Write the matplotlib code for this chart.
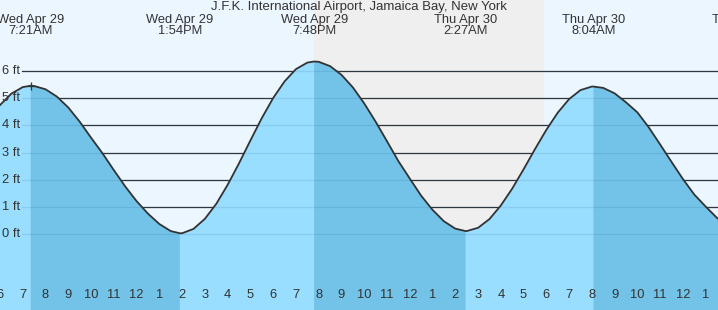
#!/usr/bin/env python

import matplotlib
matplotlib.use('Agg')
from matplotlib import pyplot as plt
from matplotlib.transforms import blended_transform_factory
import numpy as np

# tide height, hours counted from Wed Apr 29 00:00
hours = [6.0, 6.5, 7.0, 7.35, 7.5, 8.0, 8.5, 9.0, 9.5, 10.0, 10.5, 11.0, 11.5, 12.0,
         12.5, 13.0, 13.5, 13.9, 14.0, 14.5, 15.0, 15.5, 16.0, 16.5, 17.0, 17.5, 18.0,
         18.5, 19.0, 19.5, 19.8, 20.0, 20.5, 21.0, 21.5, 22.0, 22.5, 23.0, 23.5, 24.0,
         24.5, 25.0, 25.5, 26.0, 26.45, 26.5, 27.0, 27.5, 28.0, 28.5, 29.0, 29.5, 30.0,
         30.5, 31.0, 31.5, 32.0, 32.07, 32.5, 33.0, 33.5, 34.0, 34.5, 35.0, 35.5, 36.0,
         36.5, 37.0, 37.5, 38.0]
heights = [4.75, 5.17, 5.41, 5.46, 5.45, 5.33, 5.06, 4.66, 4.14, 3.55, 2.98, 2.36, 1.76, 1.22,
           0.76, 0.38, 0.12, 0.04, 0.04, 0.20, 0.57, 1.12, 1.82, 2.61, 3.45, 4.27, 5.01,
           5.62, 6.07, 6.31, 6.35, 6.34, 6.18, 5.86, 5.40, 4.81, 4.14, 3.42, 2.69, 2.05,
           1.42, 0.90, 0.48, 0.21, 0.12, 0.12, 0.24, 0.56, 1.06, 1.68, 2.39, 3.13, 3.84,
           4.47, 4.97, 5.30, 5.43, 5.43, 5.38, 5.18, 4.85, 4.48, 3.93, 3.30, 2.66, 2.03,
           1.46, 1.02, 0.60, 0.30]

# high / low tide events
event_hours = [7.35, 13.9, 19.8, 26.45, 32.07, 38.68]
event_days = ['Wed Apr 29', 'Wed Apr 29', 'Wed Apr 29', 'Thu Apr 30', 'Thu Apr 30', 'Thu Apr 30']
event_times = ['7:21AM', '1:54PM', '7:48PM', '2:27AM', '8:04AM', '2:41PM']
event_kind = ['high', 'low', 'high', 'low', 'high', 'low']

sunset = 19.78
sunrise = 29.9

tick_hours = list(range(6, 38))
tick_labels = ['6', '7', '8', '9', '10', '11', '12', '1', '2', '3', '4', '5', '6', '7', '8',
               '9', '10', '11', '12', '1', '2', '3', '4', '5', '6', '7', '8', '9', '10',
               '11', '12', '1']
midnight = 24

ft_levels = [0, 1, 2, 3, 4, 5, 6]
ft_labels = ['0 ft', '1 ft', '2 ft', '3 ft', '4 ft', '5 ft', '6 ft']

title = 'J.F.K. International Airport, Jamaica Bay, New York'

day_bg = '#ecf6ff'
night_bg = '#efefef'
rising_fill = '#99ddff'
falling_fill = '#73c2e7'
ink = '#333333'

plt.rcParams['font.family'] = ['Liberation Sans', 'DejaVu Sans']

fig = plt.figure(figsize=(7.18, 3.10), dpi=100)
ax = fig.add_axes([0, 0, 1, 1])
ax.set_xlim(6.0, 37.54)
ax.set_ylim(-2.78, 8.61)
ax.set_facecolor(day_bg)
for s in ax.spines.values():
    s.set_visible(False)

ax.axvspan(sunset, sunrise, color=night_bg, zorder=0, lw=0)

# grid lines start just right of the ft labels
for lv in ft_levels:
    ax.axhline(lv, xmin=22 / 718, xmax=1, color=ink, lw=0.9, zorder=1)

h = np.array(hours)
v = np.array(heights)
bottom = ax.get_ylim()[0]
ax.fill_between(h, v, bottom, color=rising_fill, lw=0, zorder=2)
falling = np.zeros(len(h), dtype=bool)
for i in range(len(event_hours)):
    if event_kind[i] == 'high':
        end = event_hours[i + 1] if i + 1 < len(event_hours) else h[-1]
        falling |= (h >= event_hours[i]) & (h <= end)
ax.fill_between(h, v, bottom, where=falling, color=falling_fill, lw=0, zorder=2)

for lv in ft_levels:
    ax.axhline(lv, xmin=22 / 718, xmax=1, color='#1a5a8a', alpha=0.13, lw=0.9, zorder=3)

ax.plot(h, v, color=ink, lw=1.3, zorder=4, solid_joinstyle='round')
ax.plot([event_hours[0]], [heights[hours.index(event_hours[0])]], marker='+',
        color=ink, ms=6, mew=0.9, zorder=5)

# ft labels on the left
ytrans = blended_transform_factory(ax.transAxes, ax.transData)
for lv, lab in zip(ft_levels, ft_labels):
    ax.text(2 / 718, lv, lab, transform=ytrans, ha='left', va='center',
            fontsize=9.3, color=ink, zorder=6)

# hour ticks along the bottom
ax.set_xticks(tick_hours)
ax.set_xticklabels([])
ax.set_yticks([])
ax.tick_params(axis='x', direction='in', length=6, width=0.8, color=ink)
for tk, hr in zip(ax.xaxis.get_major_ticks(), tick_hours):
    tk.tick1line.set_zorder(6)
    if hr == midnight:
        tk.tick1line.set_markeredgewidth(2.2)
xtrans = ax.get_xaxis_transform()
for hr, lab in zip(tick_hours, tick_labels):
    ax.text(hr, 14.7 / 310, lab, transform=xtrans, ha='center', va='center',
            fontsize=9.3, color=ink, zorder=6)

# event labels on top
for hr, d, t in zip(event_hours, event_days, event_times):
    ax.text(hr, 1 - 20 / 310, d, transform=xtrans, ha='center', va='center',
            fontsize=9.3, color=ink, zorder=6)
    ax.text(hr, 1 - 31.5 / 310, t, transform=xtrans, ha='center', va='center',
            fontsize=9.3, color=ink, zorder=6)

ax.text(0.5, 1 - 7 / 310, title, transform=ax.transAxes, ha='center', va='center',
        fontsize=9.5, color=ink, zorder=6)

fig.savefig('out.png', dpi=100)
